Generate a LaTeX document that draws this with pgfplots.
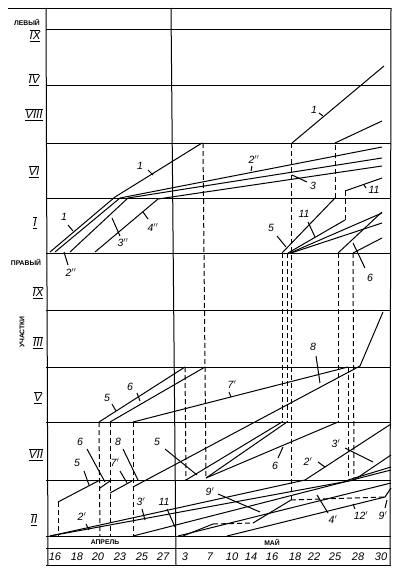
\documentclass[border=0pt]{standalone}
\usepackage{pgfplots}
\pgfplotsset{compat=1.18}
\usepackage{fontspec}
\setmainfont{Liberation Sans}
\newcommand{\rom}[1]{$\overline{\underline{\mathit{#1}}}$}
\tikzset{dsh/.style={dash pattern=on 5pt off 3pt},ldr/.style={line width=0.55pt},
  cl/.style={font=\fontsize{10.5}{10.5}\selectfont\itshape,inner sep=0pt},
  rl/.style={font=\fontsize{11.5}{11.5}\selectfont,inner sep=0pt},
  cyr/.style={font=\fontsize{6.8}{7}\selectfont\bfseries,inner sep=0pt},
  dt/.style={font=\fontsize{11}{11}\selectfont\itshape,inner sep=0pt}}
\begin{document}
\begin{tikzpicture}
\begin{axis}[
  scale only axis, width=398pt, height=570pt,
  xmin=0, xmax=398, ymin=0, ymax=570, y dir=reverse,
  axis lines=none, clip=false, enlargelimits=false,
  cycle list={{black,solid,mark=none}},
  every axis plot post/.append style={black, mark=none, line width=1pt},
]
\addplot[draw=none] coordinates {(0,0) (398,570)};
% ---- frame ----
\addplot coordinates {(8,8) (391,8)};
\addplot coordinates {(46,8) (48,565)};
\addplot coordinates {(391,8) (390,565)};
\addplot coordinates {(171,8) (176,565)};
\addplot coordinates {(46,29) (391,29)};
\addplot coordinates {(46,85) (391,85)};
\addplot coordinates {(46,143) (391,143)};
\addplot coordinates {(46,198) (391,198)};
\addplot coordinates {(46,253) (391,253)};
\addplot coordinates {(46,310) (391,310)};
\addplot coordinates {(46,367) (391,367)};
\addplot coordinates {(46,422) (391,422)};
\addplot coordinates {(46,480) (391,480)};
\addplot coordinates {(46,536) (391,536)};
\addplot coordinates {(46,548) (391,548)};
\addplot coordinates {(46,565) (391,565)};
% ---- upper group ----
\addplot coordinates {(50,252) (115,197) (202,143)};
\addplot coordinates {(292,143) (384,66)};
\addplot coordinates {(55,252) (120,198) (382,147)};
\addplot coordinates {(70,252) (128,198) (382,158)};
\addplot coordinates {(95,252) (158,199) (382,166)};
\addplot coordinates {(282,253) (335,198)};
\addplot[dsh] coordinates {(335,198) (335,143)};
\addplot coordinates {(335,143) (382,121)};
\addplot coordinates {(288,253) (345,220)};
\addplot[dsh] coordinates {(345,220) (345,191)};
\addplot coordinates {(345,191) (382,178)};
\addplot coordinates {(290,253) (382,213)};
\addplot coordinates {(291,253) (382,223)};
\addplot coordinates {(338,253) (382,212)};
\addplot coordinates {(353,253) (382,238)};
% ---- dashed verticals ----
\addplot[dsh] coordinates {(203,143) (206,478)};
\addplot[dsh] coordinates {(291,143) (291,500)};
\addplot[dsh] coordinates {(282,253) (282,422)};
\addplot[dsh] coordinates {(287,253) (287,422)};
\addplot[dsh] coordinates {(338,253) (338,422)};
\addplot[dsh] coordinates {(353,253) (354,478)};
\addplot[dsh] coordinates {(348,367) (348,478)};
\addplot[dsh] coordinates {(185,367) (186,480)};
\addplot[dsh] coordinates {(99,422) (100,536)};
\addplot[dsh] coordinates {(110,422) (110,536)};
\addplot[dsh] coordinates {(133,422) (133,536)};
\addplot[dsh] coordinates {(58,502) (58,536)};
% ---- V band ----
\addplot coordinates {(99,422) (185,367)};
\addplot coordinates {(110,422) (205,367)};
\addplot coordinates {(133,422) (348,367)};
\addplot coordinates {(133,487) (360,366) (383,312)};
% ---- VII band ----
\addplot coordinates {(58,502) (100,480)};
\addplot coordinates {(100,488) (110,481)};
\addplot coordinates {(110,493) (132,481)};
\addplot coordinates {(186,480) (282,422)};
\addplot coordinates {(206,478) (338,422)};
\addplot coordinates {(206,478) (287,422)};
\addplot coordinates {(50,536) (305,480) (391,424)};
\addplot coordinates {(50,536) (354,480) (391,455)};
\addplot coordinates {(348,480) (391,467)};
% ---- II band ----
\addplot coordinates {(133,536) (391,470)};
\addplot coordinates {(178,536) (391,483)};
\addplot coordinates {(183,536) (213,524)};
\addplot[dsh] coordinates {(213,524) (253,523)};
\addplot coordinates {(253,523) (291,500)};
\addplot[dsh] coordinates {(291,500) (385,497)};
\addplot coordinates {(385,497) (391,488)};
\addplot coordinates {(227,536) (385,497)};
% ---- leaders ----
\addplot[ldr] coordinates {(148,170) (153,175)};
\addplot[ldr] coordinates {(68,225) (73,231)};
\addplot[ldr] coordinates {(68,265) (64,252)};
\addplot[ldr] coordinates {(120,236) (112,218)};
\addplot[ldr] coordinates {(148,219) (143,212)};
\addplot[ldr] coordinates {(319,113) (323,116)};
\addplot[ldr] coordinates {(252,166) (251,171)};
\addplot[ldr] coordinates {(307,182) (292,175)};
\addplot[ldr] coordinates {(366,188) (364,185)};
\addplot[ldr] coordinates {(308,222) (315,237)};
\addplot[ldr] coordinates {(277,236) (286,247)};
\addplot[ldr] coordinates {(365,268) (353,243)};
\addplot[ldr] coordinates {(112,404) (116,411)};
\addplot[ldr] coordinates {(137,393) (140,401)};
\addplot[ldr] coordinates {(229,392) (231,397)};
\addplot[ldr] coordinates {(316,356) (320,383)};
\addplot[ldr] coordinates {(87,449) (105,482)};
\addplot[ldr] coordinates {(123,449) (138,480)};
\addplot[ldr] coordinates {(165,449) (197,475)};
\addplot[ldr] coordinates {(84,471) (89,485)};
\addplot[ldr] coordinates {(120,471) (127,483)};
\addplot[ldr] coordinates {(86,524) (89,530)};
\addplot[ldr] coordinates {(142,509) (145,520)};
\addplot[ldr] coordinates {(167,509) (175,527)};
\addplot[ldr] coordinates {(278,458) (283,447)};
\addplot[ldr] coordinates {(318,462) (325,467)};
\addplot[ldr] coordinates {(345,448) (373,462)};
\addplot[ldr] coordinates {(218,494) (260,512)};
\addplot[ldr] coordinates {(328,513) (317,495)};
\addplot[ldr] coordinates {(355,509) (353,504)};
\addplot[ldr] coordinates {(385,508) (387,500)};
% ---- curve labels ----
\node[cl] at (axis cs:140,166) {1};
\node[cl] at (axis cs:64,217) {1};
\node[cl] at (axis cs:71,273) {2$''$};
\node[cl] at (axis cs:123,243) {3$''$};
\node[cl] at (axis cs:153,228) {4$''$};
\node[cl] at (axis cs:314,110) {1};
\node[cl] at (axis cs:254,160) {2$''$};
\node[cl] at (axis cs:313,186) {3};
\node[cl] at (axis cs:374,190) {11};
\node[cl] at (axis cs:304,214) {11};
\node[cl] at (axis cs:271,228) {5};
\node[cl] at (axis cs:370,278) {6};
\node[cl] at (axis cs:107,398) {5};
\node[cl] at (axis cs:130,387) {6};
\node[cl] at (axis cs:232,385) {7$'$};
\node[cl] at (axis cs:313,347) {8};
\node[cl] at (axis cs:80,442) {6};
\node[cl] at (axis cs:118,442) {8};
\node[cl] at (axis cs:157,442) {5};
\node[cl] at (axis cs:77,463) {5};
\node[cl] at (axis cs:115,463) {7$'$};
\node[cl] at (axis cs:82,517) {2$'$};
\node[cl] at (axis cs:141,502) {3$'$};
\node[cl] at (axis cs:164,502) {11};
\node[cl] at (axis cs:275,466) {6};
\node[cl] at (axis cs:308,462) {2$'$};
\node[cl] at (axis cs:336,444) {3$'$};
\node[cl] at (axis cs:210,492) {9$'$};
\node[cl] at (axis cs:333,520) {4$'$};
\node[cl] at (axis cs:361,516) {12$'$};
\node[cl] at (axis cs:383,516) {9$'$};
% ---- section labels ----
\node[cyr] at (axis cs:27,22) {ЛЕВЫЙ};
\node[cyr] at (axis cs:26,262) {ПРАВЫЙ};
\node[cyr,rotate=90] at (axis cs:22,332) {УЧАСТКИ};
\node[rl] at (axis cs:35,36) {\rom{IX}};
\node[rl] at (axis cs:34,80) {\rom{IV}};
\node[rl] at (axis cs:34,115) {\rom{VIII}};
\node[rl] at (axis cs:34,172) {\rom{VI}};
\node[rl] at (axis cs:35,223) {\rom{I}};
\node[rl] at (axis cs:38,293) {\rom{IX}};
\node[rl] at (axis cs:38,343) {\rom{III}};
\node[rl] at (axis cs:38,398) {\rom{V}};
\node[rl] at (axis cs:36,455) {\rom{VII}};
\node[rl] at (axis cs:34,520) {\rom{II}};
% ---- months and dates ----
\node[cyr] at (axis cs:105,542) {АПРЕЛЬ};
\node[cyr] at (axis cs:272,542) {МАЙ};
\node[dt] at (axis cs:55,557) {16};
\node[dt] at (axis cs:77,557) {18};
\node[dt] at (axis cs:98,557) {20};
\node[dt] at (axis cs:120,557) {23};
\node[dt] at (axis cs:142,557) {25};
\node[dt] at (axis cs:163,557) {27};
\node[dt] at (axis cs:185,557) {3};
\node[dt] at (axis cs:210,557) {7};
\node[dt] at (axis cs:232,557) {10};
\node[dt] at (axis cs:251,557) {14};
\node[dt] at (axis cs:272,557) {16};
\node[dt] at (axis cs:295,557) {18};
\node[dt] at (axis cs:314,557) {22};
\node[dt] at (axis cs:335,557) {25};
\node[dt] at (axis cs:358,557) {28};
\node[dt] at (axis cs:381,557) {30};
\end{axis}
\end{tikzpicture}
\end{document}
